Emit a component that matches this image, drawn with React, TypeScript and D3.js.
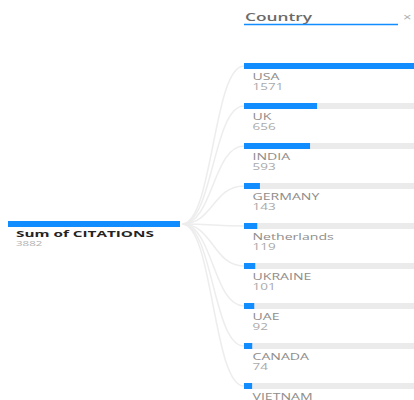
import React from "react";
import * as d3 from "d3";

const rootLabel = "Sum of CITATIONS";
const rootValue = 3882;
const headerLabel = "Country";
const countries = ["USA", "UK", "INDIA", "GERMANY", "Netherlands", "UKRAINE", "UAE", "CANADA", "VIETNAM"];
const citations = [1571, 656, 593, 143, 119, 101, 92, 74, 73];

const W = 414;
const H = 400;
const BLUE = "#118DFF";
const FONT = "'Open Sans', 'Noto Sans', sans-serif";

function SText(props: { x: number; y: number; sx: number; size: number; weight?: number; fill: string; children: any }) {
  return (
    <text
      transform={`translate(${props.x},${props.y}) scale(${props.sx},1)`}
      fontSize={props.size}
      fontWeight={props.weight ?? 400}
      fill={props.fill}
    >
      {props.children}
    </text>
  );
}

export default function App() {
  const rootX = 8;
  const rootW = 172;
  const rootY = 221;
  const barH = 6;
  const childX = 244;
  const trackW = 175;

  const y = d3.scalePoint<string>().domain(countries).range([63, 383]);
  const x = d3.scaleLinear().domain([0, d3.max(citations) as number]).range([0, trackW]);

  const link = d3
    .linkHorizontal<any, [number, number]>()
    .source((d: any) => d.source)
    .target((d: any) => d.target);

  return (
    <svg
      width={W}
      height={H}
      style={{ position: "absolute", left: 0, top: 0, background: "#fff" }}
      fontFamily={FONT}
    >
      {countries.map((c) => (
        <path
          key={"l" + c}
          d={link({ source: [rootX + rootW + 2, rootY + barH / 2], target: [childX, (y(c) as number) + barH / 2] } as any) as string}
          fill="none"
          stroke="#ededed"
          strokeWidth={1.5}
        />
      ))}

      <rect x={rootX} y={rootY} width={rootW} height={barH} fill={BLUE} />
      <SText x={16} y={237} sx={1.8} size={8.5} weight={700} fill="#252423">
        {rootLabel}
      </SText>
      <SText x={16} y={245.5} sx={1.65} size={7} fill="#b0b0b0">
        {rootValue}
      </SText>

      <SText x={245} y={21} sx={1.65} size={10.5} weight={600} fill="#6b6a68">
        {headerLabel}
      </SText>
      <line x1={244} x2={398} y1={24.5} y2={24.5} stroke={BLUE} strokeWidth={1.5} />
      <SText x={403} y={21} sx={1.5} size={10} fill="#b0b0b0">
        ×
      </SText>

      {countries.map((c, i) => {
        const yy = y(c) as number;
        return (
          <g key={c}>
            <rect x={childX} y={yy} width={trackW} height={barH} fill="#ebebeb" />
            <rect x={childX} y={yy} width={x(citations[i])} height={barH} fill={BLUE} />
            <SText x={252.5} y={yy + 16.5} sx={1.7} size={8.3} fill="#8f8d8b">
              {c}
            </SText>
            <SText x={252.5} y={yy + 26.5} sx={1.65} size={8.2} fill="#aaaaaa">
              {citations[i]}
            </SText>
          </g>
        );
      })}
    </svg>
  );
}
